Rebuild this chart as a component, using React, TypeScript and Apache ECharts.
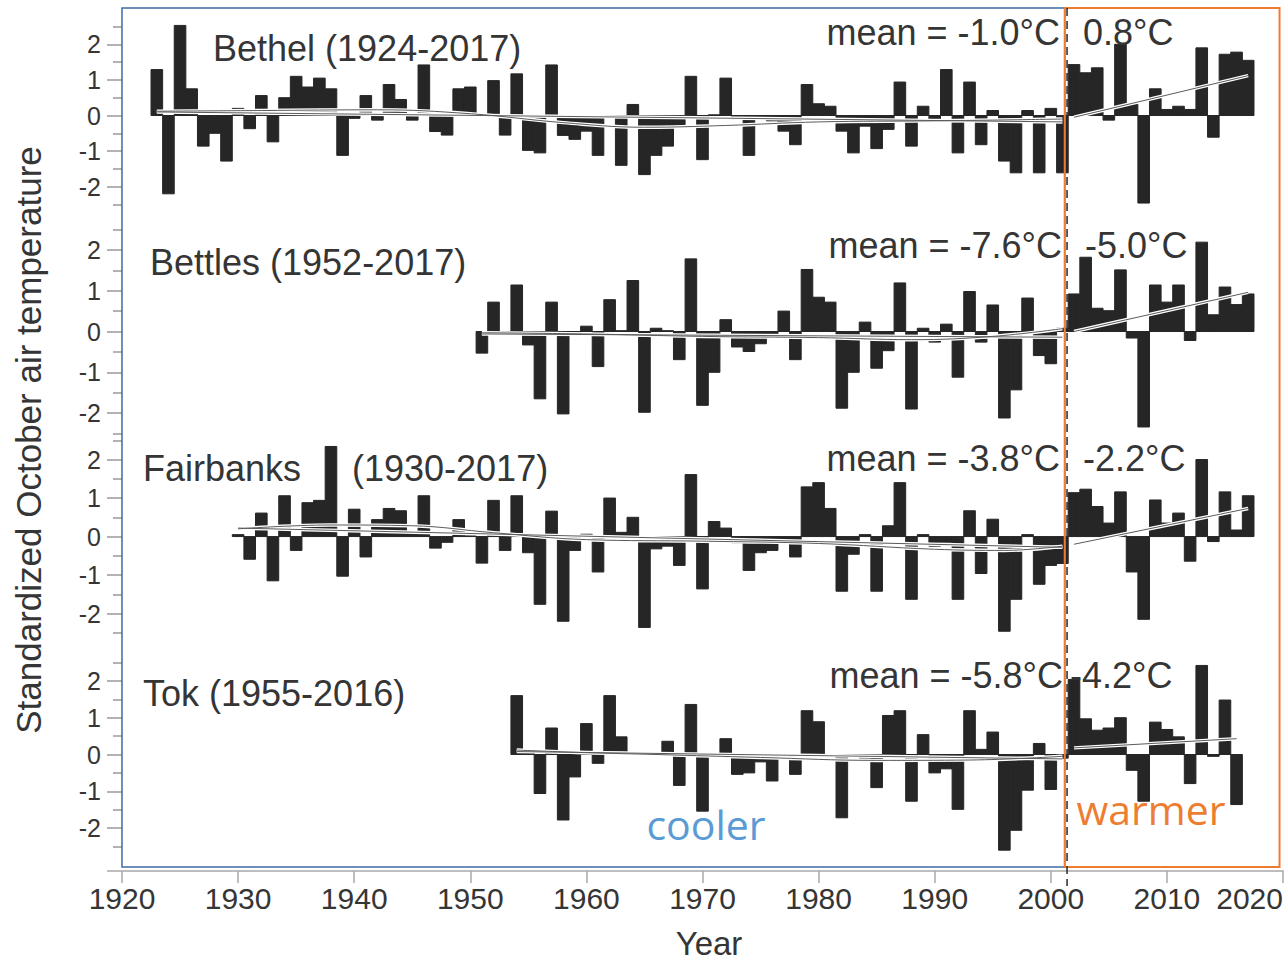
import React, { useEffect, useRef } from "react";
import * as echarts from "echarts";

// ---------- data ----------
const bethelStart = 1923;
const bethelValues = [
  1.29, -2.2, 2.53, 0.75, -0.86, -0.5, -1.28, 0.2, -0.37, 0.56,
  -0.74, 0.5, 1.1, 0.8, 1.05, 0.75, -1.12, -0.08, 0.56, -0.13,
  0.87, 0.45, -0.13, 1.42, -0.45, -0.55, 0.75, 0.8, 0.03, 0.98,
  -0.55, 1.17, -0.98, -1.05, 1.42, -0.56, -0.67, -0.44, -1.12, -0.05,
  -1.4, 0.31, -1.66, -1.12, -0.86, -0.3, 1.1, -1.24, 0.02, 1.05,
  -0.1, -1.12, -0.1, -0.15, -0.44, -0.82, 0.87, 0.33, 0.26, -0.44,
  -1.05, -0.3, -0.93, -0.39, 0.94, -0.86, 0.26, -0.13, 1.29, -1.05,
  0.94, -0.82, 0.14, -1.28, -1.61, 0.14, -1.61, 0.2, -1.61, 1.43,
  1.2, 1.34, -0.13, 2.0, 0.31, -2.46, 0.75, 0.17, 0.26, 0.17,
  1.9, -0.61, 1.72, 1.78, 1.55,
];
const bettlesStart = 1951;
const bettlesValues = [
  -0.53, 0.72, -0.05, 1.14, -0.33, -1.65, 0.72, -2.02, -0.03, 0.13,
  -0.86, 0.78, 0.02, 1.25, -1.98, 0.08, 0.02, -0.69, 1.78, -1.81,
  -1.0, 0.29, -0.38, -0.49, -0.3, -0.1, 0.5, -0.69, 1.52, 0.84,
  0.72, -1.88, -1.0, 0.23, -0.9, -0.47, 1.19, -1.9, 0.08, -0.26,
  0.18, -1.12, 0.98, -0.26, 0.65, -2.12, -1.43, 0.82, -0.59, -0.79,
  0.08, 0.92, 1.82, 0.57, 0.51, 1.51, -0.16, -2.34, 1.14, 0.72,
  1.14, -0.22, 2.19, 0.41, 1.09, 0.66, 0.92,
];
const fairbanksStart = 1930;
const fairbanksValues = [
  0.05, -0.59, 0.61, -1.15, 1.06, -0.36, 0.88, 0.94, 2.34, -1.03,
  0.71, -0.53, 0.44, 0.73, 0.67, 0.12, 1.06, -0.3, -0.15, 0.44,
  0.02, -0.69, 0.94, -0.36, 1.06, -0.42, -1.76, 0.66, -2.2, -0.36,
  0.06, -0.92, 1.0, 0.11, 0.5, -2.36, -0.32, -0.25, -0.75, 1.61,
  -1.36, 0.39, 0.22, -0.16, -0.88, -0.42, -0.36, -0.13, -0.53, 1.29,
  1.4, 0.73, -1.42, -0.46, 0.05, -1.42, 0.28, 1.4, -1.63, 0.05,
  -0.25, -0.15, -1.63, 0.67, -0.96, 0.45, -2.46, -1.63, 0.05, -1.24,
  -0.75, -0.7, 1.14, 1.23, 0.78, 0.35, 1.16, -0.92, -2.15, 0.95,
  0.35, 0.61, -0.64, 2.0, -0.13, 1.16, 0.17, 1.06,
];
const tokStart = 1954;
const tokValues = [
  1.6, 0.08, -1.06, 0.72, -1.78, -0.61, 0.84, -0.24, 1.6, 0.48,
  0.02, 0.0, 0.0, 0.36, -0.84, 1.36, -1.54, 0.02, 0.43, -0.54,
  -0.5, -0.2, -0.72, -0.03, -0.54, 1.19, 0.89,
  0.0, -1.72, -0.05, -0.1, -0.9, 1.06, 1.19, -1.27, 0.54, -0.5,
  -0.39, -1.49, 1.19, 0.14, 0.61, -2.6, -2.06, -0.97, 0.3, -0.95,
  -0.1, 2.04, 0.97, 0.66, 0.72, 1.0, -0.43, -1.27, 0.88, 0.68,
  0.48, -0.79, 2.42, -0.05, 1.48, -1.36,
];

const bethelTrendPre = [[1923, 0.12], [1932, 0.14], [1942, 0.16], [1950, 0.05], [1958, -0.2], [1965, -0.33], [1972, -0.28], [1980, -0.18], [1990, -0.15], [2001, -0.1]];
const bethelLinearPre = [[1923, 0.1], [2001, -0.18]];
const bethelTrendPost = [[2002, -0.05], [2017, 1.12]];

const bettlesTrendPre = [[1951, -0.03], [1960, -0.06], [1970, -0.12], [1980, -0.15], [1988, -0.2], [1995, -0.12], [2001, 0.07]];
const bettlesLinearPre = [[1951, -0.06], [2001, -0.14]];
const bettlesTrendPost = [[2002, 0.0], [2017, 0.96]];

const fairbanksTrendPre = [[1930, 0.2], [1938, 0.3], [1945, 0.28], [1952, 0.1], [1960, -0.08], [1970, -0.12], [1980, -0.18], [1990, -0.33], [1996, -0.36], [2001, -0.25]];
const fairbanksLinearPre = [[1930, 0.22], [2001, -0.28]];
const fairbanksTrendPost = [[2002, -0.2], [2017, 0.73]];

const tokTrendPre = [[1954, 0.12], [1960, 0.05], [1966, 0.0], [1975, -0.08], [1985, -0.16], [1993, -0.15], [2001, -0.05]];
const tokLinearPre = [[1954, 0.08], [2001, -0.12]];
const tokTrendPost = [[2002, 0.18], [2016, 0.43]];

const stationTitles = ["Bethel (1924-2017)", "Bettles (1952-2017)", "Fairbanks", "Tok (1955-2016)"];
const fairbanksTitleRest = "(1930-2017)";
const meanBefore = ["mean = -1.0°C", "mean = -7.6°C", "mean = -3.8°C", "mean = -5.8°C"];
const meanAfter = ["0.8°C", "-5.0°C", "-2.2°C", "-4.2°C"];
const majorYTicks = [-2, -1, 0, 1, 2];
const minorYTicks = [-2.5, -1.5, -0.5, 0.5, 1.5, 2.5];
const xMin = 1920;
const xMax = 2020;
const xStep = 10;
const splitYear = 2001.4;

// ---------- layout ----------
const FONT = "'Liberation Sans', Arial, Helvetica, sans-serif";
const BAR = "#262626";
const TEXT = "#353535";
const GRID_LEFT = 122;
const GRID_WIDTH = 1161;
const panelLayout = [
  { top: 26.5, height: 178, titleX: 213, titleY: 48, meanY: 32, meanRight: 1060, afterLeft: 1083 },
  { top: 229.5, height: 204, titleX: 150, titleY: 262, meanY: 245, meanRight: 1062, afterLeft: 1085 },
  { top: 440.3, height: 192.5, titleX: 143, titleY: 468, meanY: 458, meanRight: 1060, afterLeft: 1083 },
  { top: 662.5, height: 184, titleX: 143, titleY: 693, meanY: 675, meanRight: 1063, afterLeft: 1070 },
];
const AXIS_Y = 871;

const panelData = [
  { start: bethelStart, values: bethelValues, pre: bethelTrendPre, lin: bethelLinearPre, post: bethelTrendPost },
  { start: bettlesStart, values: bettlesValues, pre: bettlesTrendPre, lin: bettlesLinearPre, post: bettlesTrendPost },
  { start: fairbanksStart, values: fairbanksValues, pre: fairbanksTrendPre, lin: fairbanksLinearPre, post: fairbanksTrendPost },
  { start: tokStart, values: tokValues, pre: tokTrendPre, lin: tokLinearPre, post: tokTrendPost },
];

function buildOption() {
  const grid: any[] = [];
  const xAxis: any[] = [];
  const yAxis: any[] = [];
  const series: any[] = [];
  panelLayout.forEach((p, i) => {
    grid.push({ left: GRID_LEFT, width: GRID_WIDTH, top: p.top, height: p.height, outerBoundsMode: "none", containLabel: false });
    const last = i === panelLayout.length - 1;
    xAxis.push({
      gridIndex: i,
      type: "value",
      min: xMin,
      max: xMax,
      interval: xStep,
      show: last,
      position: "bottom",
      offset: last ? AXIS_Y - (p.top + p.height) : 0,
      axisLine: { show: true, onZero: false, lineStyle: { color: "#a8a8a8", width: 1.5 } },
      axisTick: { show: true, length: 12, lineStyle: { color: "#a8a8a8", width: 1.5 } },
      axisLabel: { fontSize: 30, color: TEXT, fontFamily: FONT, margin: 12, alignMaxLabel: "right", formatter: (v: number) => String(v) },
      splitLine: { show: false },
    });
    yAxis.push({
      gridIndex: i,
      type: "value",
      min: -2.5,
      max: 2.5,
      position: "left",
      axisLine: { show: false, onZero: false },
      splitLine: { show: false },
      axisTick: { show: true, customValues: majorYTicks, length: 15, lineStyle: { color: "#9a9a9a", width: 1.5 } },
      axisLabel: { show: true, customValues: majorYTicks, fontSize: 25, color: TEXT, fontFamily: FONT, margin: 21 },
    });
    yAxis.push({
      gridIndex: i,
      type: "value",
      min: -2.5,
      max: 2.5,
      position: "left",
      axisLine: { show: false, onZero: false },
      splitLine: { show: false },
      axisTick: { show: true, customValues: minorYTicks, length: 9, lineStyle: { color: "#9a9a9a", width: 1.5 } },
      axisLabel: { show: false },
    });
    const d = panelData[i];
    series.push({
      type: "custom",
      xAxisIndex: i,
      yAxisIndex: 2 * i,
      clip: false,
      data: d.values.map((v, k) => [d.start + k, v]),
      encode: { x: 0, y: 1 },
      renderItem: (_params: any, api: any) => {
        const yr = api.value(0);
        const v = api.value(1);
        const a = api.coord([yr - 0.5, 0]);
        const b = api.coord([yr + 0.5, v]);
        return {
          type: "rect",
          shape: { x: a[0], y: Math.min(a[1], b[1]), width: b[0] - a[0], height: Math.abs(b[1] - a[1]) },
          style: { fill: BAR, stroke: BAR, lineWidth: 1 },
        };
      },
      z: 2,
    });
    const trends: [number[][], boolean][] = [[d.pre, true], [d.lin, false], [d.post, false]];
    trends.forEach(([td, smooth]) => {
      series.push({
        type: "line", xAxisIndex: i, yAxisIndex: 2 * i, data: td, smooth: smooth ? 0.4 : false,
        symbol: "none", silent: true, z: 3,
        lineStyle: { color: "#ffffff", width: 3.5 },
      });
      series.push({
        type: "line", xAxisIndex: i, yAxisIndex: 2 * i, data: td, smooth: smooth ? 0.4 : false,
        symbol: "none", silent: true, z: 4,
        lineStyle: { color: "#5a5a5a", width: 1 },
      });
    });
  });
  return { animation: false, backgroundColor: "#ffffff", grid, xAxis, yAxis, series };
}

function buildGraphic(chart: any) {
  const px = (yr: number) => chart.convertToPixel({ xAxisIndex: 3 }, yr);
  const xLeft = px(xMin);
  const xSplit = px(splitYear);
  const xBoxSplit = px(2001.2);
  const xRight = px(2019.7);
  const g: any[] = [];
  g.push({ type: "line", shape: { x1: xLeft - 15, y1: AXIS_Y, x2: xLeft, y2: AXIS_Y }, style: { stroke: "#a8a8a8", lineWidth: 1.5 }, z: 5 });
  panelLayout.forEach((p, i) => {
    g.push({
      type: "text", x: p.titleX, y: p.titleY, z: 20,
      style: { text: stationTitles[i], fontSize: 36, fontFamily: FONT, fill: TEXT, textAlign: "left", textVerticalAlign: "middle" },
    });
    g.push({
      type: "text", x: p.meanRight, y: p.meanY, z: 20,
      style: { text: meanBefore[i], fontSize: 36, fontFamily: FONT, fill: TEXT, textAlign: "right", textVerticalAlign: "middle" },
    });
    g.push({
      type: "text", x: p.afterLeft, y: p.meanY, z: 20,
      style: { text: meanAfter[i], fontSize: 36, fontFamily: FONT, fill: TEXT, textAlign: "left", textVerticalAlign: "middle" },
    });
  });
  g.push({
    type: "text", x: 352, y: panelLayout[2].titleY, z: 20,
    style: { text: fairbanksTitleRest, fontSize: 36, fontFamily: FONT, fill: TEXT, textAlign: "left", textVerticalAlign: "middle" },
  });
  g.push({ type: "rect", z: 30, shape: { x: xLeft, y: 8, width: xBoxSplit - xLeft, height: 859 }, style: { fill: "none", stroke: "#3f6aa6", lineWidth: 1.5 } });
  g.push({ type: "rect", z: 31, shape: { x: xBoxSplit, y: 8, width: xRight - xBoxSplit, height: 859 }, style: { fill: "none", stroke: "#ed7d31", lineWidth: 2 } });
  g.push({ type: "line", z: 32, shape: { x1: xSplit, y1: 8, x2: xSplit, y2: 886 }, style: { stroke: "#2a2a2a", lineWidth: 1.5, lineDash: [8, 5] } });
  g.push({ type: "text", x: 706, y: 824, z: 33, style: { text: "cooler", fontSize: 41, fontFamily: "'Open Sans', sans-serif", fill: "#5b9bd5", textAlign: "center", textVerticalAlign: "middle" } });
  g.push({ type: "text", x: 1151, y: 809, z: 33, style: { text: "warmer", fontSize: 41, fontFamily: "'Open Sans', sans-serif", fill: "#ed7d31", textAlign: "center", textVerticalAlign: "middle" } });
  g.push({ type: "text", x: 709, y: 943, z: 33, style: { text: "Year", fontSize: 33, fontFamily: FONT, fill: TEXT, textAlign: "center", textVerticalAlign: "middle" } });
  g.push({
    type: "text", x: 28, y: 440, rotation: Math.PI / 2, z: 33,
    style: { text: "Standardized October air temperature", fontSize: 35, fontFamily: FONT, fill: TEXT, textAlign: "center", textVerticalAlign: "middle" },
  });
  return g;
}

export default function App() {
  const ref = useRef<HTMLDivElement>(null);
  useEffect(() => {
    if (!ref.current) return;
    const chart = echarts.init(ref.current, undefined, { renderer: "svg" });
    chart.setOption(buildOption());
    chart.setOption({ graphic: buildGraphic(chart) });
    return () => chart.dispose();
  }, []);
  return (
    <div
      ref={ref}
      style={{ position: "absolute", left: 0, top: 0, width: 1284, height: 962, background: "#fff" }}
    />
  );
}
